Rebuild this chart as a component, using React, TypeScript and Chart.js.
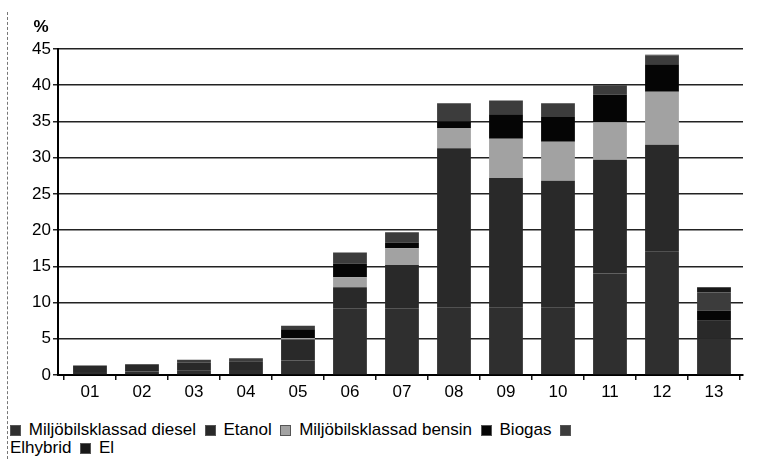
import React, { useEffect, useRef } from "react";
import { Chart, registerables } from "chart.js";

Chart.register(...registerables);

const categories = ["01", "02", "03", "04", "05", "06", "07", "08", "09", "10", "11", "12", "13"];
const diesel = [0.4, 0.5, 0.6, 0.7, 2.0, 9.2, 9.2, 9.3, 9.3, 9.3, 14.0, 17.0, 5.0];
const etanol = [0.9, 1.0, 1.1, 1.2, 2.9, 2.9, 6.0, 22.0, 17.9, 17.5, 15.7, 14.8, 2.5];
const bensin = [0, 0, 0, 0, 0.2, 1.4, 2.3, 2.8, 5.4, 5.4, 5.2, 7.3, 0];
const biogas = [0, 0, 0, 0, 1.2, 1.9, 0.8, 0.9, 3.4, 3.4, 3.8, 3.8, 1.4];
const elhybrid = [0, 0, 0.4, 0.4, 0.5, 1.5, 1.4, 2.5, 1.9, 1.9, 1.3, 1.2, 2.5];
const el = [0, 0, 0, 0, 0, 0, 0, 0, 0, 0, 0, 0.1, 0.7];

const seriesLabels = ["Miljöbilsklassad diesel", "Etanol", "Miljöbilsklassad bensin", "Biogas", "Elhybrid", "El"];
const seriesValues = [diesel, etanol, bensin, biogas, elhybrid, el];
const seriesColors = ["#2f2f2f", "#292929", "#a2a2a2", "#050505", "#3c3c3c", "#181818"];

const yMax = 45;
const yStep = 5;
const unitLabel = "%";

const FONT = "'Liberation Sans', Arial, sans-serif";

export default function App() {
  const ref = useRef<HTMLCanvasElement | null>(null);

  useEffect(() => {
    if (!ref.current) return;
    const unitPlugin = {
      id: "unitLabel",
      afterDraw(chart: any) {
        const { ctx, chartArea } = chart;
        ctx.save();
        ctx.font = "bold 17px " + FONT;
        ctx.fillStyle = "#000";
        ctx.textAlign = "center";
        ctx.textBaseline = "middle";
        ctx.fillText(unitLabel, chartArea.left - 17, chartArea.top - 22);
        ctx.restore();
      },
    };
    const chart = new Chart(ref.current, {
      type: "bar",
      data: {
        datasets: seriesLabels.map((label, k) => ({
          label,
          data: seriesValues[k].map((v, i) => ({ x: i + 1, y: v })),
          backgroundColor: seriesColors[k],
          borderWidth: 0,
          barPercentage: 0.65,
          categoryPercentage: 1,
        })),
      },
      options: {
        responsive: false,
        animation: false,
        layout: { padding: { top: 49, right: 18, left: 0, bottom: 0 } },
        plugins: { legend: { display: false }, tooltip: { enabled: false } },
        scales: {
          x: {
            type: "linear",
            stacked: true,
            min: 0.385,
            max: 13.558,
            offset: false,
            afterBuildTicks: (s: any) => {
              s.ticks = categories.map((_, i) => ({ value: i + 1 }));
            },
            afterFit: (s: any) => {
              s.height = 30;
            },
            ticks: {
              callback: (v: any) => categories[Math.round(v) - 1] ?? "",
              font: { family: FONT, size: 17 },
              color: "#000",
              padding: 2,
              autoSkip: false,
              maxRotation: 0,
            },
            grid: { offset: true, drawOnChartArea: false, tickLength: 5, color: "#111", lineWidth: 1.5 },
            border: { color: "#000", width: 2 },
          },
          y: {
            stacked: true,
            min: 0,
            max: yMax,
            afterFit: (s: any) => {
              s.width = 58;
            },
            ticks: {
              stepSize: yStep,
              font: { family: FONT, size: 17 },
              color: "#000",
              padding: 2,
            },
            grid: { color: "#222", lineWidth: 1.5, tickLength: 5 },
            border: { color: "#000", width: 2 },
          },
        },
      },
      plugins: [unitPlugin],
    } as any);
    return () => chart.destroy();
  }, []);

  return (
    <div style={{ position: "absolute", left: 0, top: 0, width: 761, height: 459, background: "#fff", overflow: "hidden" }}>
      <div style={{ position: "absolute", left: 7, top: 12, height: 447, borderLeft: "1px dashed #777" }} />
      <canvas ref={ref} width={761} height={405} style={{ position: "absolute", left: 0, top: 0 }} />
      <div
        style={{
          position: "absolute",
          left: 10,
          top: 421,
          width: 590,
          fontFamily: FONT,
          fontSize: 17,
          lineHeight: "18px",
          color: "#000",
        }}
      >
        {seriesLabels.map((label, k) => (
          <React.Fragment key={label}>
            <span
              style={{
                display: "inline-block",
                width: 11,
                height: 11,
                background: seriesColors[k],
                border: "1px solid #555",
                boxSizing: "border-box",
                marginLeft: k === 0 ? 0 : 4,
                marginRight: 3,
                verticalAlign: "-1px",
              }}
            />{" "}
            {label}{" "}
          </React.Fragment>
        ))}
      </div>
    </div>
  );
}
